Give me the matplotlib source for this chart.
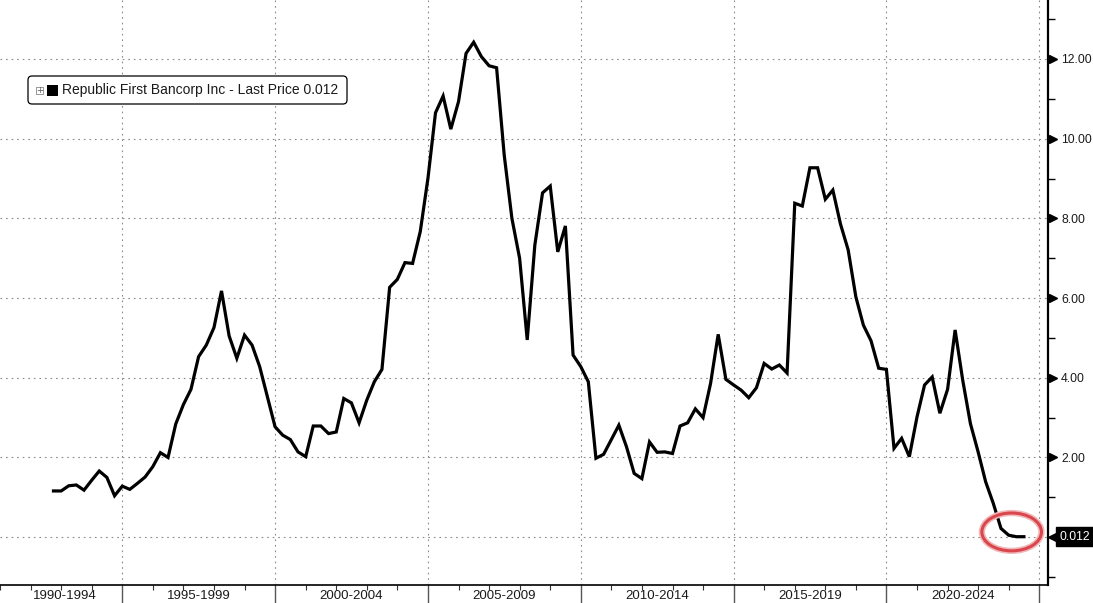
import numpy as np
import pandas as pd
import matplotlib.pyplot as plt
import matplotlib.dates as mdates
import matplotlib.transforms as mtransforms
from matplotlib.patches import Ellipse, FancyBboxPatch, Rectangle

plt.rcParams['font.family'] = ['Liberation Sans', 'DejaVu Sans']

# quarterly closing price
start_quarter = '1992-10-01'
price = [
    1.16, 1.16, 1.29, 1.31, 1.18, 1.43, 1.66, 1.50, 1.04, 1.28,
    1.20, 1.35, 1.51, 1.77, 2.12, 2.00, 2.84, 3.33, 3.71, 4.53,
    4.82, 5.26, 6.18, 5.05, 4.49, 5.07, 4.82, 4.28, 3.52, 2.77,
    2.56, 2.45, 2.14, 2.02, 2.79, 2.79, 2.60, 2.64, 3.48, 3.37,
    2.87, 3.44, 3.90, 4.21, 6.27, 6.47, 6.89, 6.87, 7.67, 9.01,
    10.65, 11.07, 10.24, 10.93, 12.14, 12.42, 12.06, 11.83, 11.78, 9.59,
    8.00, 7.00, 4.95, 7.33, 8.64, 8.81, 7.16, 7.81, 4.57, 4.28,
    3.90, 1.98, 2.08, 2.45, 2.81, 2.27, 1.60, 1.47, 2.39, 2.13,
    2.14, 2.10, 2.79, 2.87, 3.22, 3.00, 3.86, 5.09, 3.96, 3.82,
    3.69, 3.50, 3.75, 4.36, 4.22, 4.32, 4.12, 8.38, 8.31, 9.27,
    9.27, 8.48, 8.71, 7.86, 7.21, 6.03, 5.32, 4.93, 4.24, 4.21,
    2.23, 2.48, 2.02, 3.02, 3.82, 4.02, 3.11, 3.71, 5.20, 3.94,
    2.85, 2.14, 1.39, 0.85, 0.22, 0.05, 0.012, 0.012,
]
period_labels = ['1990-1994', '1995-1999', '2000-2004', '2005-2009',
                 '2010-2014', '2015-2019', '2020-2024']
period_starts = [1990, 1995, 2000, 2005, 2010, 2015, 2020, 2025]
y_major = [0, 2, 4, 6, 8, 10, 12]
legend_label = 'Republic First Bancorp Inc - Last Price 0.012'
last_label = '0.012'

dates = pd.date_range(start_quarter, periods=len(price), freq='QS')

W, H = 1093, 603
fig = plt.figure(figsize=(W / 100, H / 100), dpi=100)
ax = fig.add_axes([0, 18 / H, 1048 / W, 585 / H])

ax.plot(dates, price, color='black', lw=2.3, solid_joinstyle='miter', zorder=3)

x_left = pd.Timestamp('1991-04-08')
x_right = pd.Timestamp('2025-04-15')
ax.set_xlim(x_left, x_right)
ax.set_ylim(-1.2, 13.48)

# spines
for s in ['top', 'left']:
    ax.spines[s].set_visible(False)
ax.spines['right'].set_linewidth(1.6)
ax.spines['bottom'].set_linewidth(1.2)

# grid
grid_kw = dict(color='#8a8a8a', lw=0.8, ls=(0, (1.5, 3.5)), zorder=1)
for v in y_major:
    ax.axhline(v, **grid_kw)
for yr in period_starts[1:]:
    ax.axvline(pd.Timestamp(f'{yr}-01-01'), **grid_kw)

# x ticks
bounds = [pd.Timestamp(f'{yr}-01-01') for yr in period_starts]
ax.set_xticks(bounds[1:])
ax.set_xticklabels([''] * (len(bounds) - 1))
ax.set_xticks([pd.Timestamp(f'{yr}-01-01') for yr in range(1991, 2026)], minor=True)
ax.tick_params(axis='x', which='major', length=14, width=1, color='#555555', direction='out')
ax.tick_params(axis='x', which='minor', length=3.5, width=0.8, color='#333333', direction='out')

tr_x = mtransforms.blended_transform_factory(ax.transData, ax.transAxes)
for i, lab in enumerate(period_labels):
    lo = max(mdates.date2num(bounds[i]), mdates.date2num(x_left))
    hi = mdates.date2num(bounds[i + 1])
    ax.text((lo + hi) / 2, -0.008, lab, transform=tr_x, ha='center', va='top',
            fontsize=9.5, color='#1a1a1a')

# y ticks on right
ax.yaxis.tick_right()
ax.set_yticks(y_major)
ax.set_yticklabels([''] + [f'{v:.2f}' for v in y_major[1:]], fontsize=8.8, color='#1a1a1a')
ax.set_yticks(np.arange(-1, 14, 2), minor=True)
ax.tick_params(axis='y', which='major', length=0, pad=9.5)
ax.tick_params(axis='y', which='minor', length=5, width=1, color='black', direction='out')
tr_y = mtransforms.blended_transform_factory(ax.transAxes, ax.transData)
ax.plot([1.0048] * (len(y_major) - 1), y_major[1:], marker='>', ls='none', color='black',
        markersize=6, transform=tr_y, clip_on=False, zorder=5)

# last value tag
ax.text(1090 / 1048, price[-1], last_label, transform=tr_y, ha='right', va='center',
        fontsize=8.8, color='white',
        bbox=dict(boxstyle='square,pad=0.3', fc='black', ec='black'), zorder=6)
ax.plot([1054 / 1048], [price[-1]], marker='<', color='black', markersize=8,
        transform=tr_y, clip_on=False, zorder=5.5)

# red ellipse around the last value
cx = mdates.date2num(dates[-1]) - 0.4 * 365.25
ax.add_patch(Ellipse((cx, price[-1] + 0.12), width=1.95 * 365.25, height=0.95,
                     fill=False, ec='#f0b8ba', lw=4.5, zorder=4, clip_on=False))
ax.add_patch(Ellipse((cx, price[-1] + 0.12), width=1.95 * 365.25, height=0.95,
                     fill=False, ec='#d9474d', lw=2.2, zorder=4, clip_on=False))

# legend box drawn in pixel units (origin bottom-left)
px = fig.dpi_scale_trans
s = 0.01
fig.patches.append(FancyBboxPatch((28 * s, (H - 104) * s), 319 * s, 28 * s,
                                  boxstyle=f'round,pad=0,rounding_size={4 * s}',
                                  fc='white', ec='black', lw=0.9, transform=px, zorder=7))
fig.patches.append(Rectangle((36 * s, (H - 94) * s), 7 * s, 7 * s, fc='white',
                             ec='#888888', lw=0.6, transform=px, zorder=8))
fig.text(39.5 * s, (H - 90.5) * s, '+', transform=px, fontsize=6, color='#555555',
         ha='center', va='center', family='DejaVu Sans', zorder=9)
fig.patches.append(Rectangle((47 * s, (H - 96) * s), 11 * s, 11 * s, fc='black',
                             ec='black', lw=0, transform=px, zorder=8))
fig.text(62 * s, (H - 90) * s, legend_label, transform=px, fontsize=10,
         color='#1a1a1a', ha='left', va='center', zorder=9)

fig.savefig('out.png', dpi=100, facecolor='white')
